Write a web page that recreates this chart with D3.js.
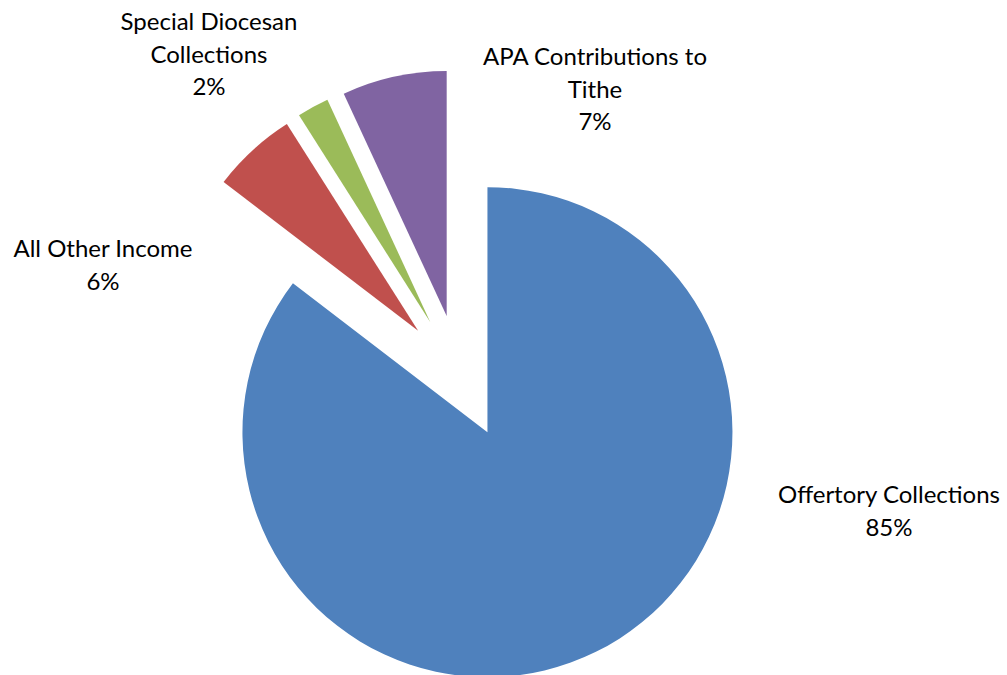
<!DOCTYPE html>
<html>
<head>
<meta charset="utf-8">
<script src="https://cdn.jsdelivr.net/npm/d3@7"></script>
<style>
  html, body { margin: 0; padding: 0; background: #fff; }
  svg { display: block; }
  text { font-family: "Lato", "Open Sans", sans-serif; fill: #000; }
</style>
</head>
<body>
<svg id="chart" width="1007" height="675"></svg>
<script>
// ---- data ----
const categories = ["Offertory Collections", "All Other Income", "Special Diocesan Collections", "APA Contributions to Tithe"];
const values = [85.4, 5.6, 2.1, 6.9];
const labelLines = [["Offertory Collections"], ["All Other Income"], ["Special Diocesan", "Collections"], ["APA Contributions to", "Tithe"]];
const colors = ["#4F81BD", "#C0504D", "#9BBB59", "#8064A2"];

// ---- layout ----
const width = 1007, height = 675;
const cx = 460, cy = 376.6, R = 245, explode = 62;
// label block anchors: [center x, first baseline y]
const labelAnchors = [[889, 503], [103, 257], [209, 30], [595, 65]];
const lineH = 32.5;
const fontSize = 24;

const svg = d3.select("#chart");
const total = d3.sum(values);
const pct = d3.format(".0%");

const pie = d3.pie().sort(null).value(d => d).startAngle(0).endAngle(2 * Math.PI);
const arcs = pie(values);
const arc = d3.arc().innerRadius(0).outerRadius(R);

const g = svg.append("g").attr("transform", `translate(${cx},${cy})`);
g.selectAll("path")
  .data(arcs)
  .join("path")
  .attr("d", arc)
  .attr("fill", (d, i) => colors[i])
  .attr("transform", d => {
    const mid = (d.startAngle + d.endAngle) / 2;
    return `translate(${explode * Math.sin(mid)},${-explode * Math.cos(mid)})`;
  });

const labels = svg.selectAll("g.label")
  .data(arcs)
  .join("g")
  .attr("class", "label");

labels.each(function(d, i) {
  const lines = labelLines[i].concat([pct(d.value / total)]);
  const [lx, ly] = labelAnchors[i];
  const t = d3.select(this).append("text")
    .attr("text-anchor", "middle")
    .attr("font-size", fontSize);
  lines.forEach((s, k) => {
    t.append("tspan").attr("x", lx).attr("y", ly + k * lineH).text(s);
  });
});
</script>
</body>
</html>
